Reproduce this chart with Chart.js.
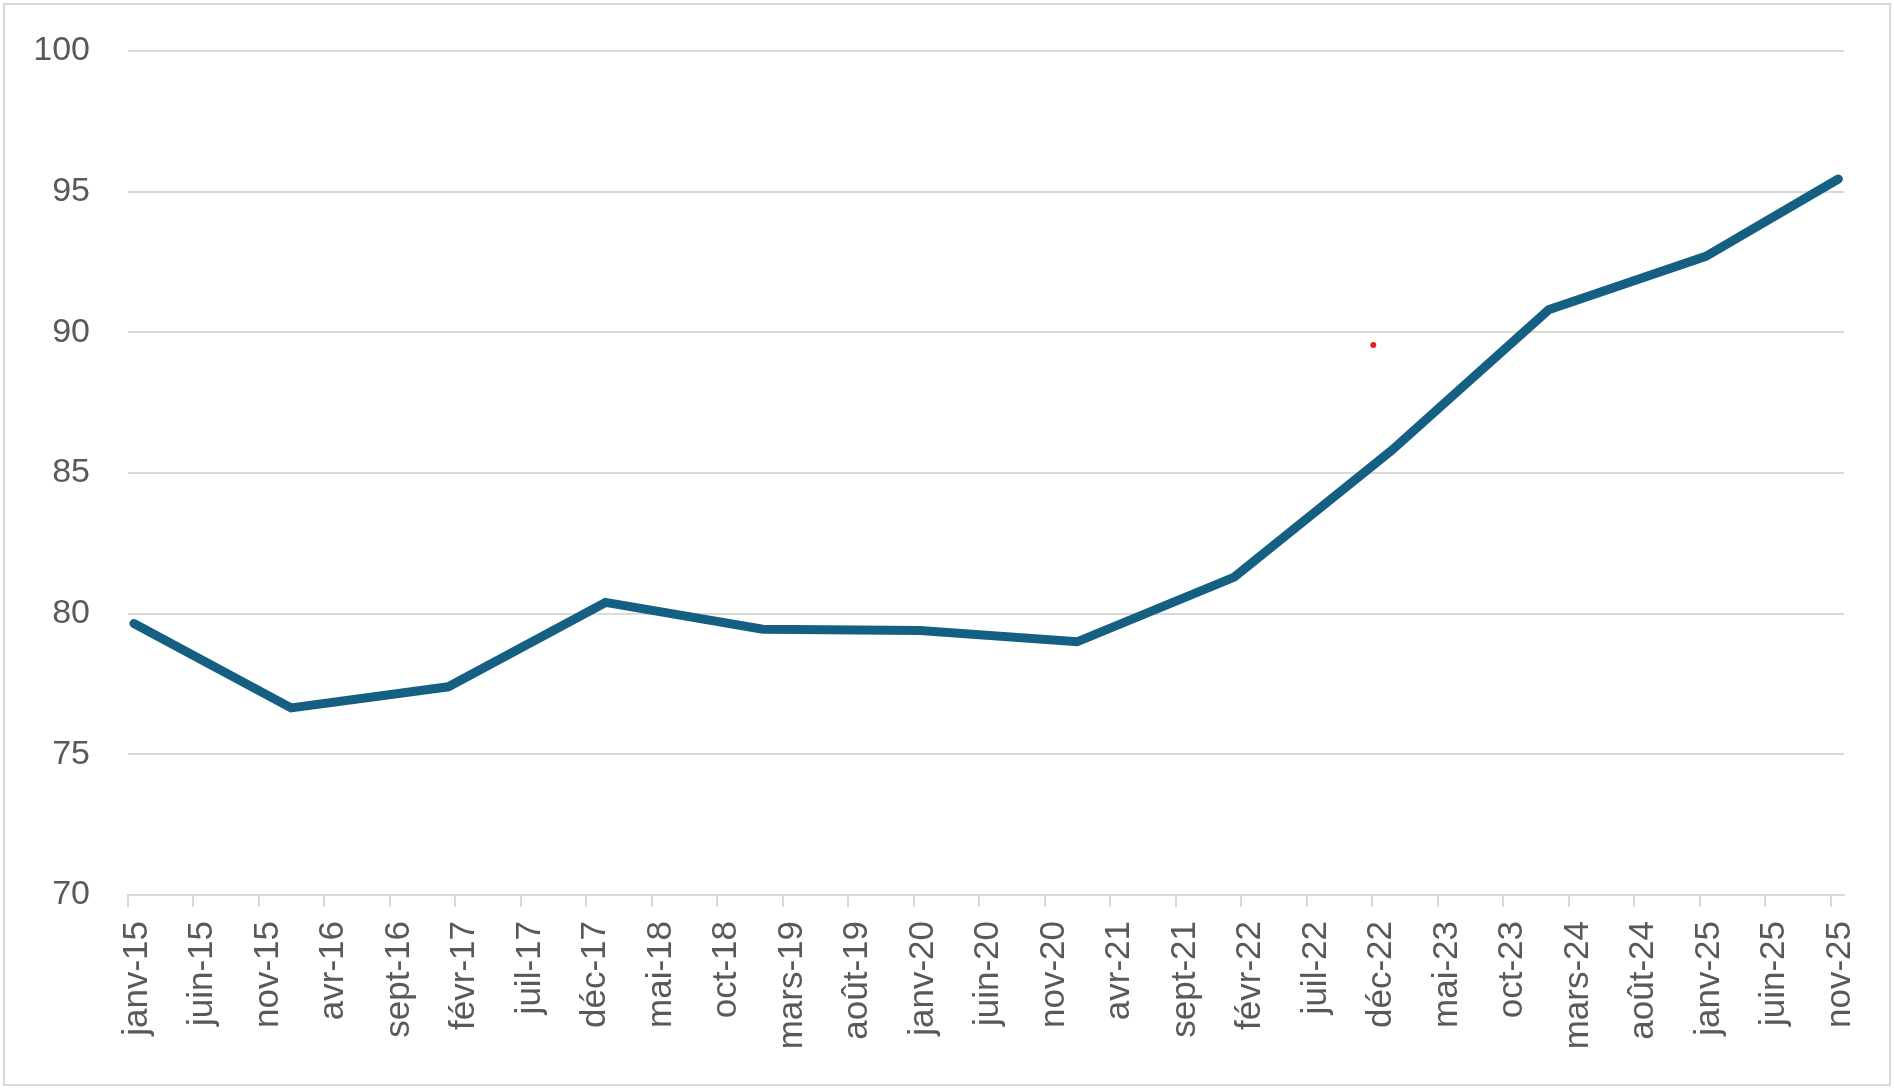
<!DOCTYPE html>
<html>
<head>
<meta charset="utf-8">
<script src="https://cdn.jsdelivr.net/npm/chart.js@4/dist/chart.umd.min.js"></script>
<style>
  html, body { margin: 0; padding: 0; background: #fff; }
  #wrap { position: relative; width: 1894px; height: 1090px; }
</style>
</head>
<body>
<div id="wrap"><canvas id="myChart"></canvas></div>
<script>
//data
const dates = ['2015-01-15', '2016-01-15', '2017-01-15', '2018-01-15', '2019-01-15', '2020-01-15',
               '2021-01-15', '2022-01-15', '2023-01-15', '2024-01-15', '2025-01-15', '2025-11-18'];
const values = [79.65, 76.65, 77.4, 80.4, 79.45, 79.4, 79.0, 81.3, 85.8, 90.8, 92.7, 95.45];

//stray red mark in the original
const dotDates = ['2022-12-03'];
const dotValues = [89.55];

//x labels every 5 months from janv-15
const tickLabels = ['janv-15', 'juin-15', 'nov-15', 'avr-16', 'sept-16', 'févr-17', 'juil-17', 'déc-17',
                    'mai-18', 'oct-18', 'mars-19', 'août-19', 'janv-20', 'juin-20', 'nov-20', 'avr-21',
                    'sept-21', 'févr-22', 'juil-22', 'déc-22', 'mai-23', 'oct-23', 'mars-24', 'août-24',
                    'janv-25', 'juin-25', 'nov-25'];
const yTicks = [70, 75, 80, 85, 90, 95, 100];

//months since janv-15 (fraction of month for the day)
function monthPos(s) {
    const p = s.split('-').map(Number);
    const days = new Date(p[0], p[1], 0).getDate();
    return (p[0] - 2015) * 12 + (p[1] - 1) + (p[2] - 1) / days;
}

const gridCol = '#d9d9d9';
const textCol = '#595959';
const fam = "'Liberation Sans', Arial, sans-serif";

//light frame round the whole chart
const framePlugin = {
    id: 'frame',
    beforeDraw(chart) {
        const c = chart.ctx;
        c.save();
        c.fillStyle = '#fff';
        c.fillRect(0, 0, chart.width, chart.height);
        c.strokeStyle = gridCol;
        c.lineWidth = 2;
        c.strokeRect(4, 4, chart.width - 8, chart.height - 9);
        c.restore();
    }
};

const ctx = document.getElementById('myChart');

new Chart(ctx, {
    type: 'line',
    data: {
        datasets: [{
            data: dates.map((d, i) => ({ x: monthPos(d), y: values[i] })),
            borderColor: '#156082',
            borderWidth: 9,
            borderCapStyle: 'round',
            borderJoinStyle: 'miter',
            pointRadius: 0,
            fill: false,
            tension: 0
        }, {
            data: dotDates.map((d, i) => ({ x: monthPos(d), y: dotValues[i] })),
            showLine: false,
            pointRadius: 3,
            pointBorderWidth: 0,
            backgroundColor: '#e0201c',
            borderColor: '#e0201c'
        }]
    },
    options: {
        responsive: true,
        maintainAspectRatio: false,
        animation: false,
        layout: { autoPadding: false, padding: { left: 0, right: 50, top: 51, bottom: 0 } },
        plugins: {
            legend: { display: false },
            tooltip: { enabled: false }
        },
        scales: {
            x: {
                type: 'linear',
                min: 0,
                max: 131,
                afterFit(scale) { scale.height = 195; },
                afterBuildTicks(scale) {
                    scale.ticks = tickLabels.map((t, i) => ({ value: i * 5 }));
                },
                ticks: {
                    autoSkip: false,
                    minRotation: 90,
                    maxRotation: 90,
                    padding: 14,
                    labelOffset: 9,
                    color: textCol,
                    font: { family: fam, size: 35 },
                    callback: (v) => tickLabels[Math.round(v / 5)]
                },
                grid: {
                    drawOnChartArea: false,
                    drawTicks: true,
                    tickLength: 12,
                    color: gridCol,
                    lineWidth: 2
                },
                border: { display: true, color: gridCol, width: 2 }
            },
            y: {
                min: 70,
                max: 100,
                afterFit(scale) { scale.width = 128; },
                afterBuildTicks(scale) {
                    scale.ticks = yTicks.map(v => ({ value: v }));
                },
                ticks: {
                    padding: 2,
                    color: textCol,
                    font: { family: fam, size: 34 }
                },
                grid: {
                    drawTicks: true,
                    tickLength: 36,
                    tickColor: 'rgba(0,0,0,0)',
                    color: gridCol,
                    lineWidth: 2
                },
                border: { display: false }
            }
        }
    },
    plugins: [framePlugin]
});
</script>
</body>
</html>
